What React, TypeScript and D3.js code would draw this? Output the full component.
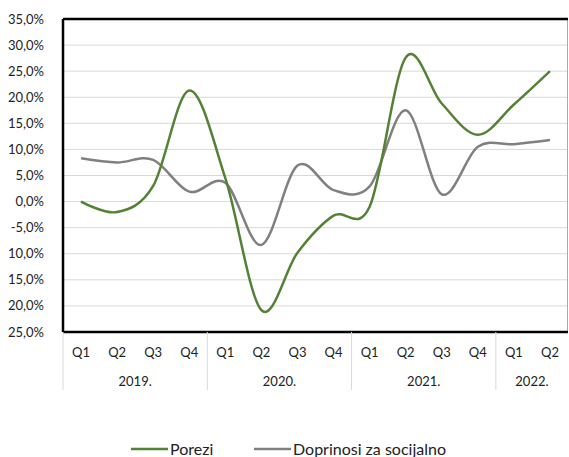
import React from "react";
import * as d3 from "d3";

const quarters = ["Q1","Q2","Q3","Q4","Q1","Q2","Q3","Q4","Q1","Q2","Q3","Q4","Q1","Q2"];
const years = ["2019.","2020.","2021.","2022."];
const yearSpans = [4, 4, 4, 2];
const porezi = [0.0, -2.0, 3.0, 21.3, 4.5, -20.8, -9.8, -2.7, -1.0, 27.6, 18.8, 12.8, 18.6, 25.0];
const doprinosi = [8.3, 7.5, 8.0, 1.9, 3.6, -8.3, 6.9, 2.2, 2.9, 17.5, 1.4, 10.5, 11.0, 11.8];
const yTicks = [35, 30, 25, 20, 15, 10, 5, 0, -5, -10, -15, -20, -25];
const yTickLabels = ["35,0%","30,0%","25,0%","20,0%","15,0%","10,0%","5,0%","0,0%","-5,0%","10,0%","15,0%","20,0%","25,0%"];
const seriesNames = ["Porezi", "Doprinosi za socijalno"];
const seriesColors = ["#548235", "#808080"];

const W = 569, H = 457;
const L = 63, R = 568, T = 19, B = 332;

export default function App() {
  const idx = quarters.map((_, i) => i);
  const x = d3.scaleBand<number>().domain(idx).range([L, R]);
  const y = d3.scaleLinear().domain([-25, 35]).range([B, T]);
  const cx = (i: number) => (x(i) as number) + x.bandwidth() / 2;
  const line = d3.line<number>().x((_, i) => cx(i)).y(d => y(d)).curve(d3.curveCatmullRom.alpha(0));
  const font = "Lato, 'Open Sans', sans-serif";

  let acc = 0;
  const yearPos = yearSpans.map(s => { const start = acc; acc += s; return { start, end: acc }; });

  return (
    <div style={{ position: "absolute", left: 0, top: 0 }}>
      <svg width={W} height={H} style={{ display: "block" }} fontFamily={font}>
        <rect x={0} y={0} width={W} height={H} fill="#fff" />
        {yTicks.filter(t => t < 35 && t > -25).map(t => (
          <line key={t} x1={L} x2={R} y1={y(t)} y2={y(t)} stroke="#d9d9d9" strokeWidth={1} />
        ))}
        {yTicks.map((t, i) => (
          <text key={t} x={44} y={y(t)} dy="0.35em" textAnchor="end" fontSize={13} fill="#222">{yTickLabels[i]}</text>
        ))}
        <path d={line(doprinosi) || ""} fill="none" stroke={seriesColors[1]} strokeWidth={2.5} />
        <path d={line(porezi) || ""} fill="none" stroke={seriesColors[0]} strokeWidth={2.5} />
        <line x1={R - 0.5} x2={R - 0.5} y1={T} y2={B} stroke="#aaa" strokeWidth={1} />
        <line x1={L} x2={R} y1={T} y2={T} stroke="#000" strokeWidth={2.5} />
        <line x1={L} x2={L} y1={T} y2={B} stroke="#000" strokeWidth={2.5} />
        <line x1={L} x2={R} y1={B} y2={B} stroke="#000" strokeWidth={2.5} />
        {quarters.map((q, i) => (
          <text key={i} x={cx(i)} y={352} dy="0.35em" textAnchor="middle" fontSize={13} fill="#222">{q}</text>
        ))}
        {yearPos.map((p, i) => {
          const x0 = x(p.start) as number;
          const x1 = p.end >= quarters.length ? R : (x(p.end) as number);
          return (
            <g key={i}>
              <line x1={x0} x2={x0} y1={B} y2={390} stroke="#d9d9d9" strokeWidth={1} />
              <text x={(x0 + x1) / 2} y={381} dy="0.35em" textAnchor="middle" fontSize={13} fill="#222">{years[i]}</text>
            </g>
          );
        })}
        <line x1={131} x2={168} y1={449} y2={449} stroke={seriesColors[0]} strokeWidth={2.5} />
        <text x={170} y={455} fontSize={16} fill="#222">{seriesNames[0]}</text>
        <line x1={254} x2={291} y1={449} y2={449} stroke={seriesColors[1]} strokeWidth={2.5} />
        <text x={293} y={455} fontSize={16} fill="#222">{seriesNames[1]}</text>
      </svg>
    </div>
  );
}
